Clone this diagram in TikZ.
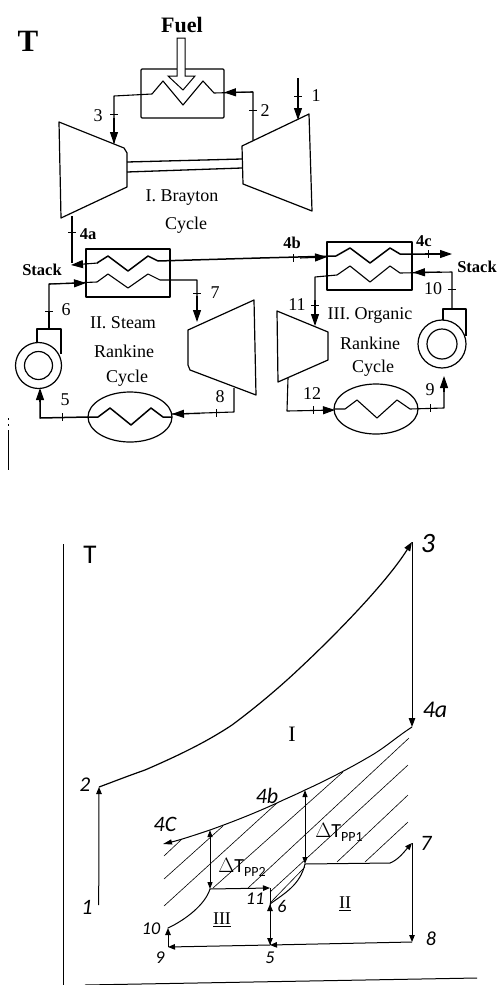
\documentclass[tikz,border=0pt]{standalone}
\usepackage{fontspec}
\setmainfont{Liberation Serif}
\newfontfamily\hand{Carlito}
\usetikzlibrary{arrows.meta,shapes.geometric}
\tikzset{
  wire/.style={line width=1.1pt,line join=round},
  thick wire/.style={line width=1.5pt,line join=round},
  unit/.style={line width=1.2pt,line join=round},
  arr/.style={line width=1.1pt,-{Triangle[length=12pt,width=8pt]}},
  plotline/.style={line width=1pt,line cap=round},
  plotarr/.style={line width=1pt,-{Triangle[length=7pt,width=5.5pt]}},
  both/.style={line width=1pt,{Triangle[length=7pt,width=5pt]}-{Triangle[length=7pt,width=5pt]}},
  hatch/.style={line width=0.6pt},
  lbl/.style={font=\fontsize{18}{18}\selectfont,inner sep=0pt},
  blbl/.style={font=\bfseries\fontsize{16.5}{16.5}\selectfont,inner sep=0pt},
  hlbl/.style={font=\hand\itshape\fontsize{18}{18}\selectfont,inner sep=0pt},
}
\newcommand{\tickv}[2]{\draw[line width=0.8pt] (#1-4,#2)--(#1+4,#2);}
\newcommand{\tickh}[2]{\draw[line width=0.8pt] (#1,#2-4)--(#1,#2+4);}
\begin{document}
\begin{tikzpicture}[x=1pt,y=-1pt]
\useasboundingbox (0,0) rectangle (499,985);
% ---- labels upper
\node[font=\bfseries\fontsize{31}{31}\selectfont,inner sep=0pt] (tt) at (28,41) {T};
\node[font=\bfseries\fontsize{22}{22}\selectfont,inner sep=0pt] (fuel) at (182,25) {Fuel};
% combustor
\node[draw,unit,minimum width=83pt,minimum height=49pt,inner sep=0pt,rounded corners=1pt] (comb) at (182.5,93.5) {};
\coordinate (c3) at (114,96); \coordinate (t3) at (114,143);
\coordinate (c2) at (253,92); \coordinate (t2) at (253,140);
\draw[wire] (t3)--(c3)--(152,94)--(163,81)--(183,105)--(203,81)--(214,93)--(c2)--(t2);
\draw[line width=1pt,fill=white] (177,38)--(185,38)--(185,76)--(195,76)--(183,90)--(168,76)--(177,76)--cycle;
\draw[arr] (253,92)--(224,92.5);
\draw[arr] (114,118)--(114,144);
\tickv{114}{114} \tickv{253}{110}
\node[lbl] (l3) at (98,116) {3};
\node[lbl] (l2) at (265,111) {2};
% Brayton turbine & compressor
\draw[unit] (59,122)--(124,148)--(127,153)--(127,187)--(61,218)--cycle;
\draw[unit] (242,146)--(309,114)--(312,211)--(243,184)--cycle;
\draw[line width=1.3pt] (127,162)--(242,159) (127,172)--(242,168);
\draw[wire] (298,78)--(298,92);
\draw[arr] (298,92)--(298,120);
\tickv{298}{96}
\node[lbl] (l1) at (316,96) {1};
\node[lbl] (br1) at (182,198) {I. Brayton};
\node[lbl] (br2) at (186,225) {Cycle};
% 4a
\coordinate (o4a) at (72,216); \coordinate (h4a) at (72,263);
\draw[wire] (o4a)--(h4a);
\tickv{72}{232}
\node[blbl] (l4a) at (88,234) {4a};
\node[blbl] (st1) at (42,270) {Stack};
% HX 1
\node[draw,unit,minimum width=84pt,minimum height=48pt,inner sep=0pt] (hx1) at (128,273) {};
\draw[arr] (98,263)--(71,265);
\draw[thick wire] (97,263)--(108,256)--(128,271)--(148,256)--(158,261)--(260,258);
\draw[thick wire] (260,258)--(336,256);
\draw[arr] (49,284)--(86,283);
\draw[wire] (49,311)--(49,284)--(97,282)--(108,274)--(128,288)--(148,274)--(160,280)--(197,280)--(197,300);
\draw[arr] (197,296)--(197,322);
\tickv{197}{293} \tickv{49}{311}
\node[lbl] (l7) at (215,293) {7};
\node[lbl] (l6) at (66,310) {6};
\node[blbl] (l4b) at (292,243) {4b};
\tickh{293}{258}
\draw[arr] (300,258)--(327,257);
% steam turbine
\draw[unit] (188,330)--(254,300)--(256,395)--(190,370)--(188,365)--cycle;
\draw[wire] (234,388)--(234,412)--(172,414);
\draw[arr] (200,413.5)--(172,414);
\tickh{216}{413}
\node[lbl] (l8) at (220,397) {8};
% condenser 1
\node[draw,unit,ellipse,minimum width=84pt,minimum height=50pt,inner sep=0pt] (cd1) at (130,417) {};
\draw[thick wire] (88,417)--(98,417)--(110,408)--(131,425)--(151,408)--(163,417)--(172,417);
\draw[thick wire] (88,417)--(40,418)--(40,400);
\draw[arr] (40,402)--(40,388);
\tickh{62}{417}
\node[lbl] (l5) at (65,400) {5};
% pump 1
\node[draw,unit,circle,minimum size=46pt,inner sep=0pt] (pu1) at (38.5,365.5) {};
\node[draw,unit,circle,minimum size=28pt,inner sep=0pt] (pu1i) at (38.5,365.5) {};
\draw[unit] (37,342)--(37,329)--(61,329)--(61,354);
\draw[wire] (49,329)--(49,311);
% labels steam
\node[lbl] (s1) at (123,323) {II. Steam};
\node[lbl] (s2) at (124,351) {Rankine};
\node[lbl] (s3) at (127,378) {Cycle};
% stray rule
\draw[line width=0.8pt] (8,430)--(8,470) (8,418)--(8,420) (8,424)--(8,426);
% HX 2
\node[draw,unit,minimum width=85pt,minimum height=48pt,inner sep=0pt] (hx2) at (369.5,266) {};
\draw[thick wire] (336,256)--(350,248)--(370,263)--(390,248)--(400,254)--(440,254);
\draw[arr] (425,254)--(452,254);
\tickh{428}{254}
\node[blbl] (l4c) at (424,241) {4c};
\node[blbl] (st2) at (477,267) {Stack};
\draw[wire] (452,309)--(452,272)--(400,273)--(390,266)--(370,282)--(350,266)--(337,275)--(315,277)--(315,300);
\draw[arr] (440,272)--(413,272.5);
\tickv{452}{289} \tickv{315}{305}
\draw[arr] (315,300)--(315,326);
\node[lbl] (l10) at (433,289) {10};
\node[lbl] (l11) at (297,305) {11};
% ORC turbine
\draw[unit] (277,311)--(328,332)--(328,360)--(278,382)--cycle;
\draw[wire] (288,378)--(287,411)--(312,410.5);
\draw[arr] (312,410.5)--(335,410);
\tickh{313}{410}
\node[lbl] (l12) at (312,394) {12};
\node[lbl] (o1) at (370,315) {III. Organic};
\node[lbl] (o2) at (370,343) {Rankine};
\node[lbl] (o3) at (373,368) {Cycle};
% condenser 2
\node[draw,unit,ellipse,minimum width=84pt,minimum height=50pt,inner sep=0pt] (cd2) at (376,409) {};
\draw[wire] (334,409)--(345,409)--(357,400)--(377,418)--(397,400)--(410,409)--(444,408)--(444,392);
\draw[arr] (444,392)--(444,376);
\tickh{430}{408}
\node[lbl] (l9) at (430,390) {9};
% pump 2
\node[draw,unit,circle,minimum size=48pt,inner sep=0pt] (pu2) at (442,344) {};
\node[draw,unit,circle,minimum size=30pt,inner sep=0pt] (pu2i) at (442,344) {};
\draw[unit] (443,320)--(443,309)--(466,309)--(466,336);
% ---- T-s diagram
\coordinate (p1) at (98.7,905); \coordinate (p2) at (99,787);
\coordinate (p3) at (412,542); \coordinate (p4a) at (412,727);
\coordinate (p4b) at (277,803); \coordinate (p4c) at (163,844);
\coordinate (p5) at (270,945); \coordinate (p6) at (270,904);
\coordinate (p7) at (412,843); \coordinate (p8) at (412,942);
\coordinate (p9) at (168,947); \coordinate (p10) at (168,928);
\coordinate (p11) at (270,888);
\coordinate (p4x) at (305,790); \coordinate (p4y) at (210,830);
\coordinate (pi1) at (305,864); \coordinate (pi2) at (210,889);
\draw[line width=1.1pt] (63.5,544)--(63.5,985);
\draw[line width=1pt] (85,985)--(477,978);
\node[font=\hand\fontsize{27}{27}\selectfont,inner sep=0pt] (ts) at (90,555) {T};
% hatching
\foreach \a/\b/\c/\d in {164/856/182/839,164/879/223/826,164/906/277/803,213/888/343/772,248/888/409/738,270/892/408/765,270/903/305/867,337/862/408/795,365/862/408/822}{
  \draw[hatch] (\a,\b)--(\c,\d);
}
% Brayton
\draw[plotarr] (p1)--(p2);
\draw[line width=1.2pt,-{Triangle[length=9pt,width=6.5pt]}] (p2) .. controls (110,783) and (125,777) .. (145,770)
  .. controls (175,757) and (205,743) .. (232,725)
  .. controls (255,708) and (280,687) .. (300,668)
  .. controls (330,640) and (385,585) .. (p3);
\draw[line width=1pt,-{Triangle[length=9pt,width=6.5pt]}] (p3)--(p4a);
\draw[line width=1pt,-{Triangle[length=9pt,width=5pt]}] (p4a) .. controls (395,738) and (385,748) .. (367,758)
  .. controls (350,768) and (325,781) .. (p4x)
  .. controls (295,795) and (285,799) .. (p4b)
  .. controls (255,813) and (235,821) .. (p4y)
  .. controls (195,835) and (180,840) .. (p4c);
% pinch arrows
\draw[both] (p4x)--(pi1);
\draw[both] (p4y)--(pi2);
% steam
\draw[plotline] (pi1)--(390,863);
\draw[plotarr] (390,863) .. controls (398,860) and (404,852) .. (p7);
\draw[plotarr] (p7)--(p8);
\draw[plotarr] (p8)--(p5);
\draw[plotarr] (p5)--(p6);
\draw[plotline] (p6) .. controls (285,893) and (300,885) .. (pi1);
% organic
\draw[plotarr] (pi2)--(p11);
\draw[plotarr] (p11)--(p5);
\draw[plotarr] (p5)--(p9);
\draw[plotarr] (p9)--(p10);
\draw[plotline] (p10) .. controls (185,920) and (205,905) .. (pi2);
% labels
\node[font=\hand\itshape\fontsize{28}{28}\selectfont,inner sep=0pt] (a3) at (428,544) {3};
\node[font=\hand\itshape\fontsize{24}{24}\selectfont,inner sep=0pt] (a4a) at (435,710) {4a};
\node[font=\fontsize{22}{22}\selectfont,inner sep=0pt] (aI) at (292,734) {I};
\node[font=\hand\itshape\fontsize{21}{21}\selectfont,inner sep=0pt] (a2) at (85,785) {2};
\node[font=\hand\itshape\fontsize{22}{22}\selectfont,inner sep=0pt] (a1) at (87,907) {1};
\node[font=\hand\itshape\fontsize{22}{22}\selectfont,inner sep=0pt] (a4b) at (267,796) {4b};
\node[font=\hand\itshape\fontsize{22}{22}\selectfont,inner sep=0pt] (a4c) at (165,824) {4C};
\node[font=\hand\fontsize{20}{20}\selectfont,inner sep=0pt] (pp1) at (339,832) {$\Delta$T\raisebox{-4pt}{\fontsize{14}{14}\selectfont PP1}};
\node[font=\hand\fontsize{20}{20}\selectfont,inner sep=0pt] (pp2) at (242,867) {$\Delta$T\raisebox{-4pt}{\fontsize{14}{14}\selectfont PP2}};
\node[font=\hand\itshape\fontsize{22}{22}\selectfont,inner sep=0pt] (a7) at (426,843) {7};
\node[font=\hand\itshape\fontsize{20}{20}\selectfont,inner sep=0pt] (a8) at (431,939) {8};
\node[hlbl] (a5) at (270,958) {5};
\node[hlbl] (a6) at (282,906) {6};
\node[hlbl] (a9) at (160,958) {9};
\node[hlbl] (a10) at (151,929) {10};
\node[hlbl] (a11) at (255,899) {11};
\node[font=\fontsize{18}{18}\selectfont,inner sep=0pt] (aIII) at (222,920) {\underline{III}};
\node[font=\fontsize{18}{18}\selectfont,inner sep=0pt] (aII) at (345,904) {\underline{II}};
\end{tikzpicture}
\end{document}
